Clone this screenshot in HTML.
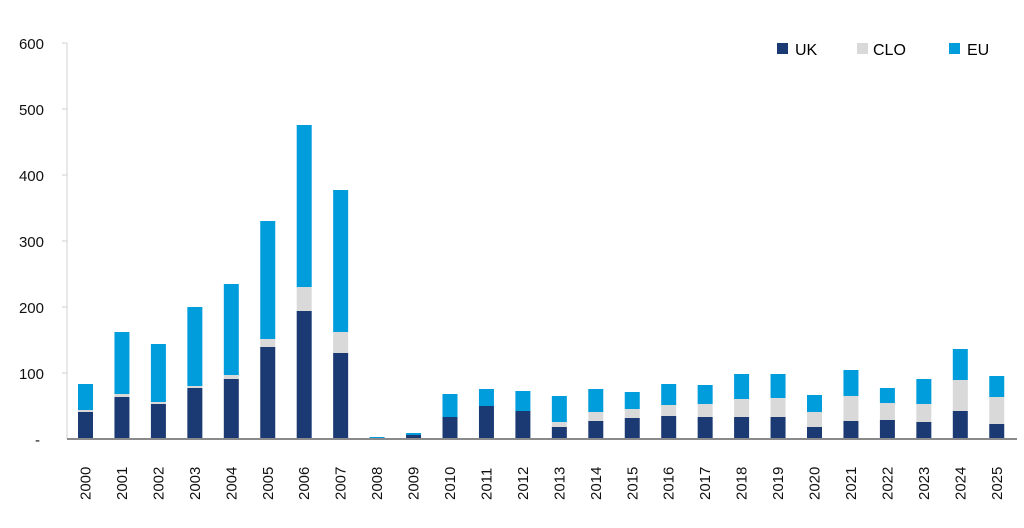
<!DOCTYPE html><html><head><style>body{margin:0;background:#fff}</style></head><body>
<svg width="1024" height="523" xmlns="http://www.w3.org/2000/svg" font-family="Liberation Sans, sans-serif">
<line x1="67" y1="43" x2="67" y2="439" stroke="#d0d0d0" stroke-width="1"/>
<g stroke="#d0d0d0"><line x1="62" y1="43" x2="67" y2="43"/><line x1="62" y1="109" x2="67" y2="109"/><line x1="62" y1="175" x2="67" y2="175"/><line x1="62" y1="241" x2="67" y2="241"/><line x1="62" y1="307" x2="67" y2="307"/><line x1="62" y1="373" x2="67" y2="373"/></g>
<g font-size="15" fill="#111" text-anchor="end"><text x="44" y="49">600</text><text x="44" y="115">500</text><text x="44" y="181">400</text><text x="44" y="247">300</text><text x="44" y="313">200</text><text x="44" y="379">100</text><text x="40" y="445">-</text></g>
<g fill="#009ddc">
<rect x="78" y="384" width="15" height="26"/>
<rect x="114.45" y="332" width="15" height="62"/>
<rect x="150.9" y="344" width="15" height="58"/>
<rect x="187.35" y="307" width="15" height="79"/>
<rect x="223.8" y="284" width="15" height="91"/>
<rect x="260.25" y="221" width="15" height="118"/>
<rect x="296.7" y="125" width="15" height="162"/>
<rect x="333.15" y="190" width="15" height="142"/>
<rect x="369.6" y="437" width="15" height="1"/>
<rect x="406.05" y="433" width="15" height="2"/>
<rect x="442.5" y="394" width="15" height="23"/>
<rect x="478.95" y="389" width="15" height="17"/>
<rect x="515.4" y="391" width="15" height="20"/>
<rect x="551.85" y="396" width="15" height="26"/>
<rect x="588.3" y="389" width="15" height="23"/>
<rect x="624.75" y="392" width="15" height="17"/>
<rect x="661.2" y="384" width="15" height="21"/>
<rect x="697.65" y="385" width="15" height="19"/>
<rect x="734.1" y="374" width="15" height="25"/>
<rect x="770.55" y="374" width="15" height="24"/>
<rect x="807" y="395" width="15" height="17"/>
<rect x="843.45" y="370" width="15" height="26"/>
<rect x="879.9" y="388" width="15" height="15"/>
<rect x="916.35" y="379" width="15" height="25"/>
<rect x="952.8" y="349" width="15" height="31"/>
<rect x="989.25" y="376" width="15" height="21"/>
</g>
<g fill="#d9d9d9">
<rect x="78" y="410" width="15" height="2"/>
<rect x="114.45" y="394" width="15" height="3"/>
<rect x="150.9" y="402" width="15" height="2"/>
<rect x="187.35" y="386" width="15" height="2"/>
<rect x="223.8" y="375" width="15" height="4"/>
<rect x="260.25" y="339" width="15" height="8"/>
<rect x="296.7" y="287" width="15" height="24"/>
<rect x="333.15" y="332" width="15" height="21"/>
<rect x="551.85" y="422" width="15" height="5"/>
<rect x="588.3" y="412" width="15" height="9"/>
<rect x="624.75" y="409" width="15" height="9"/>
<rect x="661.2" y="405" width="15" height="11"/>
<rect x="697.65" y="404" width="15" height="13"/>
<rect x="734.1" y="399" width="15" height="18"/>
<rect x="770.55" y="398" width="15" height="19"/>
<rect x="807" y="412" width="15" height="15"/>
<rect x="843.45" y="396" width="15" height="25"/>
<rect x="879.9" y="403" width="15" height="17"/>
<rect x="916.35" y="404" width="15" height="18"/>
<rect x="952.8" y="380" width="15" height="31"/>
<rect x="989.25" y="397" width="15" height="27"/>
</g>
<g fill="#1b3a73">
<rect x="78" y="412" width="15" height="27"/>
<rect x="114.45" y="397" width="15" height="42"/>
<rect x="150.9" y="404" width="15" height="35"/>
<rect x="187.35" y="388" width="15" height="51"/>
<rect x="223.8" y="379" width="15" height="60"/>
<rect x="260.25" y="347" width="15" height="92"/>
<rect x="296.7" y="311" width="15" height="128"/>
<rect x="333.15" y="353" width="15" height="86"/>
<rect x="369.6" y="438" width="15" height="1"/>
<rect x="406.05" y="435" width="15" height="4"/>
<rect x="442.5" y="417" width="15" height="22"/>
<rect x="478.95" y="406" width="15" height="33"/>
<rect x="515.4" y="411" width="15" height="28"/>
<rect x="551.85" y="427" width="15" height="12"/>
<rect x="588.3" y="421" width="15" height="18"/>
<rect x="624.75" y="418" width="15" height="21"/>
<rect x="661.2" y="416" width="15" height="23"/>
<rect x="697.65" y="417" width="15" height="22"/>
<rect x="734.1" y="417" width="15" height="22"/>
<rect x="770.55" y="417" width="15" height="22"/>
<rect x="807" y="427" width="15" height="12"/>
<rect x="843.45" y="421" width="15" height="18"/>
<rect x="879.9" y="420" width="15" height="19"/>
<rect x="916.35" y="422" width="15" height="17"/>
<rect x="952.8" y="411" width="15" height="28"/>
<rect x="989.25" y="424" width="15" height="15"/>
</g>
<line x1="67" y1="439" x2="1017" y2="439" stroke="#8a8a8a" stroke-width="2"/>
<g font-size="15" fill="#111">
<text transform="translate(90.5,500) rotate(-90)">2000</text>
<text transform="translate(126.95,500) rotate(-90)">2001</text>
<text transform="translate(163.4,500) rotate(-90)">2002</text>
<text transform="translate(199.85,500) rotate(-90)">2003</text>
<text transform="translate(236.3,500) rotate(-90)">2004</text>
<text transform="translate(272.75,500) rotate(-90)">2005</text>
<text transform="translate(309.2,500) rotate(-90)">2006</text>
<text transform="translate(345.65,500) rotate(-90)">2007</text>
<text transform="translate(382.1,500) rotate(-90)">2008</text>
<text transform="translate(418.55,500) rotate(-90)">2009</text>
<text transform="translate(455,500) rotate(-90)">2010</text>
<text transform="translate(491.45,500) rotate(-90)">2011</text>
<text transform="translate(527.9,500) rotate(-90)">2012</text>
<text transform="translate(564.35,500) rotate(-90)">2013</text>
<text transform="translate(600.8,500) rotate(-90)">2014</text>
<text transform="translate(637.25,500) rotate(-90)">2015</text>
<text transform="translate(673.7,500) rotate(-90)">2016</text>
<text transform="translate(710.15,500) rotate(-90)">2017</text>
<text transform="translate(746.6,500) rotate(-90)">2018</text>
<text transform="translate(783.05,500) rotate(-90)">2019</text>
<text transform="translate(819.5,500) rotate(-90)">2020</text>
<text transform="translate(855.95,500) rotate(-90)">2021</text>
<text transform="translate(892.4,500) rotate(-90)">2022</text>
<text transform="translate(928.85,500) rotate(-90)">2023</text>
<text transform="translate(965.3,500) rotate(-90)">2024</text>
<text transform="translate(1001.75,500) rotate(-90)">2025</text>
</g>
<rect x="777" y="43" width="11" height="11" fill="#1b3a73"/><text x="795" y="55" font-size="16">UK</text>
<rect x="857" y="43" width="11" height="11" fill="#d9d9d9"/><text x="873" y="55" font-size="16">CLO</text>
<rect x="949" y="43" width="11" height="11" fill="#009ddc"/><text x="967" y="55" font-size="16">EU</text>
</svg></body></html>
